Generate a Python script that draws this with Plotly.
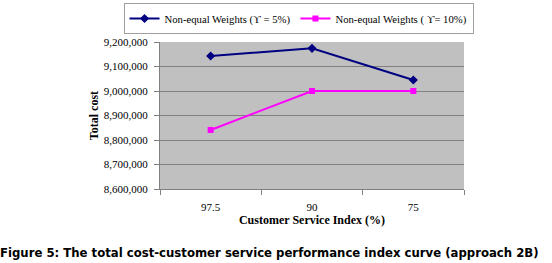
import plotly.graph_objects as go

categories = ["97.5", "90", "75"]
series_5 = [9143000, 9174000, 9045000]
series_10 = [8841000, 9000000, 9000000]
name_5 = "Non-equal Weights (ϒ = 5%)"
name_10 = "Non-equal Weights ( ϒ= 10%)"
y_ticks = [8600000, 8700000, 8800000, 8900000, 9000000, 9100000, 9200000]

fig = go.Figure()
fig.add_trace(go.Scatter(x=categories, y=series_5, name=name_5, mode="lines+markers",
                         line=dict(color="#000080", width=2),
                         marker=dict(symbol="diamond", size=7, color="#000080")))
fig.add_trace(go.Scatter(x=categories, y=series_10, name=name_10, mode="lines+markers",
                         line=dict(color="#FF00FF", width=2),
                         marker=dict(symbol="square", size=6, color="#FF00FF")))

serif = "Liberation Serif, Times New Roman, serif"
fig.update_layout(
    width=552, height=263,
    margin=dict(l=160, r=88, t=42, b=74, autoexpand=False),
    paper_bgcolor="white", plot_bgcolor="#C0C0C0",
    font=dict(family=serif, size=11, color="black"),
    showlegend=True,
    legend=dict(orientation="h", x=-0.12, xref="paper", xanchor="left", y=1.265, yref="paper",
                yanchor="top", bordercolor="#A0A0A0", borderwidth=1, bgcolor="white",
                font=dict(family=serif, size=10.7), tracegroupgap=0),
    xaxis=dict(type="category", range=[-0.5, 2.5], tickson="boundaries", ticks="outside",
               ticklen=5, tickcolor="#808080", showline=True, linecolor="#808080",
               showgrid=False, tickfont=dict(family=serif, size=11), ticklabelstandoff=8,
               title=dict(text="<b>Customer Service Index (%)</b>", font=dict(family=serif, size=12),
                          standoff=2)),
    yaxis=dict(range=[8600000, 9200000], tickvals=y_ticks, tickformat=",d", ticks="outside",
               ticklen=5, tickcolor="#808080", showline=True, linecolor="#808080",
               gridcolor="#808080", gridwidth=1, zeroline=False,
               tickfont=dict(family=serif, size=11), ticklabelstandoff=4,
               title=dict(text="<b>Total cost</b>", font=dict(family=serif, size=12), standoff=2)),
)
fig.add_annotation(text="<b>Figure 5: The total cost-customer service performance index curve (approach 2B)</b>",
                   x=0, xref="paper", xanchor="left", xshift=-161, y=0, yref="paper",
                   yshift=-56, yanchor="top", showarrow=False, borderpad=0,
                   font=dict(family="DejaVu Sans", size=11.7, color="black"))
fig.write_html("out.html", config={"displayModeBar": False},
               post_script="document.body.style.margin='0';document.body.style.padding='0';")
